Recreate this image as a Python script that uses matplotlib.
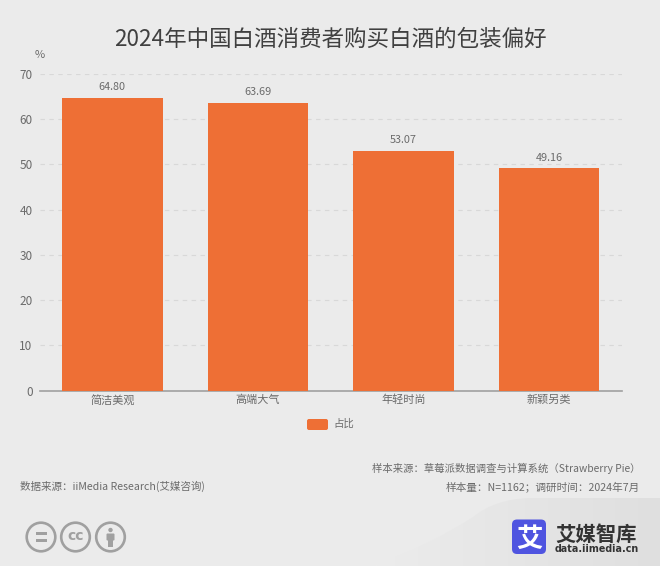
import matplotlib
matplotlib.use('Agg')
import matplotlib.pyplot as plt
import numpy as np
from matplotlib.patches import Circle, FancyBboxPatch, PathPatch, Rectangle
from matplotlib.path import Path

plt.rcParams['font.family'] = ['Noto Sans CJK SC', 'DejaVu Sans']

categories = ['简洁美观', '高端大气', '年轻时尚', '新颖另类']
values = [64.80, 63.69, 53.07, 49.16]
y_ticks = [0, 10, 20, 30, 40, 50, 60, 70]
series_name = '占比'
title = '2024年中国白酒消费者购买白酒的包装偏好'

W, H = 660, 566
BG = '#ebebeb'
ORANGE = '#ee6f35'
TXT = '#6b6b6b'

fig = plt.figure(figsize=(W / 100, H / 100), dpi=100, facecolor=BG)

# page overlay in pixel coordinates, for the footer and logo
page = fig.add_axes([0, 0, 1, 1])
page.set_xlim(0, W)
page.set_ylim(H, 0)
page.axis('off')

# swoosh behind the logo, fades out to the left
swoosh = Path([(373, 566), (430, 545), (473, 517), (495, 499), (530, 498), (660, 498), (660, 566), (373, 566)],
              [Path.MOVETO, Path.CURVE3, Path.CURVE3, Path.CURVE3, Path.CURVE3, Path.LINETO, Path.LINETO, Path.CLOSEPOLY])
clip = PathPatch(swoosh, fc='none', ec='none')
page.add_patch(clip)
fade = page.imshow(np.linspace(0, 1, 64).reshape(1, -1), extent=(373, 660, 566, 498), aspect='auto',
                   cmap=matplotlib.colors.LinearSegmentedColormap.from_list('fade', ['#ececec', '#dfdfdf']))
fade.set_clip_path(clip)
page.set_xlim(0, W)
page.set_ylim(H, 0)

# chart
ax = fig.add_axes([39.5 / W, 1 - 390.5 / H, 582.5 / W, 316.5 / H])
ax.set_facecolor('none')
bars = ax.bar(categories, values, width=0.69, color=ORANGE, zorder=3)
ax.set_xlim(-0.5, len(categories) - 0.5)
ax.set_ylim(0, 70)
ax.set_yticks(y_ticks)
ax.grid(axis='y', color='#d8d8d8', linestyle=(0, (4, 4)), linewidth=0.8, zorder=0)
for s in ['top', 'right', 'left']:
    ax.spines[s].set_visible(False)
ax.spines['bottom'].set_color('#a0a0a0')
ax.spines['bottom'].set_linewidth(1.2)
ax.tick_params(axis='y', length=0, labelcolor=TXT, labelsize=8.5, pad=5)
ax.tick_params(axis='x', length=0, labelcolor=TXT, labelsize=8, pad=3)
ax.bar_label(bars, labels=[f'{v:.2f}' for v in values], padding=4, color=TXT, fontsize=7.8)

page.text(40, 55, '%', color=TXT, fontsize=8, ha='center', va='center')
page.text(330, 39, title, color='#404040', fontsize=16.2, ha='center', va='center')

# legend
page.add_patch(FancyBboxPatch((307, 419), 21, 11, boxstyle='round,pad=0,rounding_size=2', fc=ORANGE, ec='none'))
page.text(333, 424, series_name, color=TXT, fontsize=7.5, va='center')

# footer notes
page.text(20, 486.5, '数据来源：iiMedia Research(艾媒咨询)', color=TXT, fontsize=7.6, va='center')
page.text(640, 468.5, '样本来源：草莓派数据调查与计算系统（Strawberry Pie）', color=TXT, fontsize=7.45, ha='right', va='center')
page.text(640, 486.5, '样本量：N=1162；调研时间：2024年7月', color=TXT, fontsize=7.65, ha='right', va='center')

# licence badges
GREY = '#a0a0a0'
for cx in [41, 75.5, 110.5]:
    page.add_patch(Circle((cx, 537), 14.3, fc='none', ec=GREY, lw=1.9))
page.add_patch(Rectangle((35.5, 532), 11, 3, fc=GREY, ec='none'))
page.add_patch(Rectangle((35.5, 538.5), 11, 3, fc=GREY, ec='none'))
page.text(75.5, 536, 'cc', color=GREY, fontsize=10, fontweight='bold', ha='center', va='center', family='DejaVu Sans')
page.add_patch(Circle((110.5, 530), 2.2, fc=GREY, ec='none'))
page.add_patch(FancyBboxPatch((106.5, 533.5), 8, 7, boxstyle='round,pad=0,rounding_size=1', fc=GREY, ec='none'))
page.add_patch(Rectangle((108, 540), 5, 6.5, fc=GREY, ec='none'))

# logo
page.add_patch(FancyBboxPatch((512, 519.5), 34, 34.5, boxstyle='round,pad=0,rounding_size=5', fc='#4f54e0', ec='none'))
page.text(529, 536.5, '艾', color='white', fontsize=19, fontweight='bold', ha='center', va='center_baseline')
page.text(596, 532, '艾媒智库', color='#333333', fontsize=14.7, fontweight='bold', ha='center', va='center_baseline')
page.text(596.5, 549, 'data.iimedia.cn', color='#333333', fontsize=6.9, fontweight='bold', ha='center', va='center', family='DejaVu Sans')

fig.savefig('out.png', dpi=100, facecolor=BG)
